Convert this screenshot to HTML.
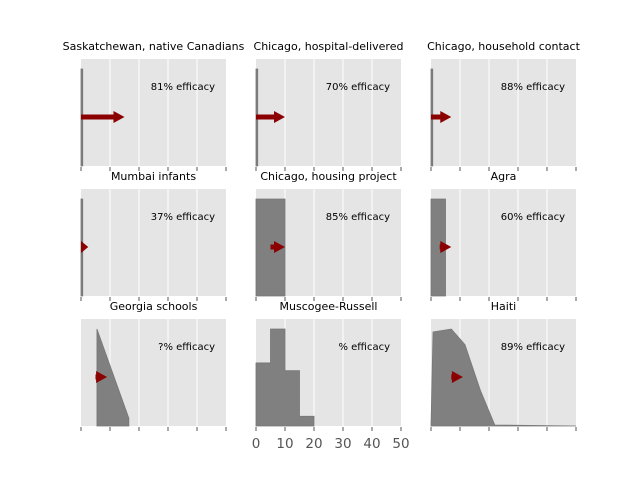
<!DOCTYPE html>
<html><head><meta charset="utf-8"><style>
body{margin:0;background:#fff;}
svg{display:block;font-family:"DejaVu Sans","Liberation Sans",sans-serif;}
</style></head><body>
<svg id="c" width="640" height="480"></svg>
<script>
const titles=["Saskatchewan, native Canadians","Chicago, hospital-delivered","Chicago, household contact","Mumbai infants","Chicago, housing project","Agra","Georgia schools","Muscogee-Russell","Haiti"];
const efficacyLabels=["81%","70%","88%","37%","85%","60%","?%","%","89%"];
const arrowStart=[0,0,0,0,5,3,5,null,7];
const arrowEnd=[15,10,7,2.5,10,7,9,null,11];
// densities: [x, relative height] polylines
const densityX=[[0,0,0.6,0.6],[0,0,0.6,0.6],[0,0,0.6,0.6],[0,0,0.6,0.6],[0,0,10,10],[0,0,5,5],[5.5,5.5,16.5,16.5],[0,0,5,5,10,10,15,15,20,20],[0,0.7,7,11.7,17,22,50]];
const densityY=[[0,1,1,0],[0,1,1,0],[0,1,1,0],[0,1,1,0],[0,1,1,0],[0,1,1,0],[0,1,0.08,0],[0,0.65,0.65,1,1,0.57,0.57,0.1,0.1,0],[0,0.97,1,0.84,0.37,0.01,0]];
const xTicks=[0,10,20,30,40,50];
const NS="http://www.w3.org/2000/svg";
const svg=document.getElementById('c');
function mk(t,a,p){const e=document.createElementNS(NS,t);for(const k in a)e.setAttribute(k,a[k]);(p||svg).appendChild(e);return e;}
const colX=[81,256,431],rowY=[59,189,319],W=145,H=107;
for(let i=0;i<9;i++){
  const x0=colX[i%3],y0=rowY[Math.floor(i/3)];
  const sx=v=>x0+v*W/50, sy=v=>y0+H-v*97;
  const g=mk('g',{});
  
  
  const bg=mk('rect',{x:x0,y:y0,width:W,height:H,fill:'#e5e5e5'},g);
  
  
  for(const t of xTicks){
    if(t>0&&t<50){const l=mk('line',{x1:sx(t),x2:sx(t),y1:y0,y2:y0+H,stroke:'#fff','stroke-width':1},g);
    
    }
    const tk=mk('line',{x1:sx(t),x2:sx(t),y1:y0+H+1,y2:y0+H+5,stroke:'#555','stroke-width':1},g);
    
    
  }
  const pts=densityX[i].map((v,j)=>sx(v)+','+sy(densityY[i][j])).join(' ');
  const d=mk('polygon',{points:pts,fill:'#808080',stroke:'#777','stroke-width':0.8},g);
  
  
  if(arrowEnd[i]!==null){
    const a=sx(arrowStart[i]),b=sx(arrowEnd[i]),ym=y0+58;
    const hl=Math.min(11,b-a);
    const p=`${a},${ym-2.5} ${b-hl},${ym-2.5} ${b-hl},${ym-6} ${b},${ym} ${b-hl},${ym+6} ${b-hl},${ym+2.5} ${a},${ym+2.5}`;
    const ar=mk('polygon',{points:p,fill:'#8b0000'},g);
    
    
  }
  const tt=mk('text',{x:x0+W/2,y:y0-9,'text-anchor':'middle','font-size':11,fill:'#000'},g);
  tt.textContent=titles[i];
  
  
  const et=mk('text',{x:x0+134,y:y0+31,'text-anchor':'end','font-size':10,fill:'#000'},g);
  et.textContent=efficacyLabels[i]+' efficacy';
  
  
  if(i===7){for(const t of xTicks){const tl=mk('text',{x:sx(t),y:y0+H+22,'text-anchor':'middle','font-size':13.5,fill:'#555'},g);
    tl.textContent=t;
    
    }}
}
</script>
</body></html>
